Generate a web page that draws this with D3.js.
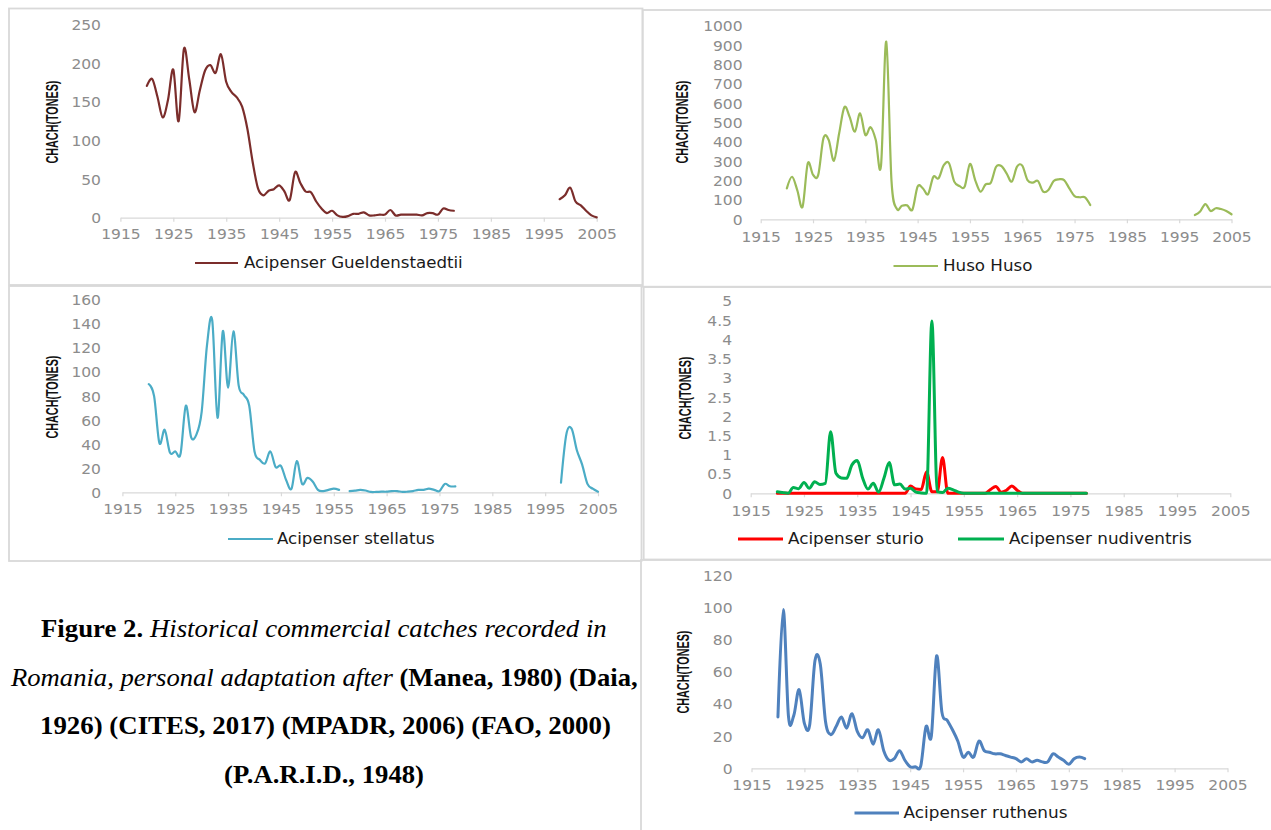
<!DOCTYPE html>
<html><head><meta charset="utf-8">
<script src="https://cdn.jsdelivr.net/npm/d3@7"></script>
<style>body{margin:0;background:#fff}svg{display:block}</style>
</head><body>
<svg id="c" width="1271" height="830"></svg>
<script>
// ---------- DATA ----------
const years = [1920,1921,1922,1923,1924,1925,1926,1927,1928,1929,
  1930,1931,1932,1933,1934,1935,1936,1937,1938,1939,
  1940,1941,1942,1943,1944,1945,1946,1947,1948,1949,
  1950,1951,1952,1953,1954,1955,1956,1957,1958,1959,
  1960,1961,1962,1963,1964,1965,1966,1967,1968,1969,
  1970,1971,1972,1973,1974,1975,1976,1977,1978,1979,
  1980,1981,1982,1983,1984,1985,1986,1987,1988,1989,
  1990,1991,1992,1993,1994,1995,1996,1997,1998,1999,
  2000,2001,2002,2003,2004,2005];
const xTickLabels = [1915,1925,1935,1945,1955,1965,1975,1985,1995,2005];
const N = null;
const gueldenstaedtii = [171,180,157,130,153,192,125,219,180,137,
  165,191,198,188,212,176,163,156,144,115,
  72,38,29,35,37,42,34,23,59,45,
  34,33,21,12,6,9,3,1,2,5,
  5,7,3,3,4,4,10,3,4,4,
  4,4,3,6,6,4,12,10,9,N,
  N,N,N,N,N,N,N,N,N,N,
  N,N,N,N,N,N,N,N,24,29,
  39,21,16,9,3,0.5];
const husoHuso = [160,220,150,65,290,230,230,420,410,303,
  445,580,530,453,548,436,476,410,278,919,
  200,55,70,72,50,170,160,130,220,212,
  280,290,195,172,170,286,203,143,181,190,
  272,276,238,195,272,278,203,190,198,143,
  152,198,207,203,160,120,114,114,74,N,
  N,N,N,N,N,N,N,N,N,N,
  N,N,N,N,N,N,N,N,22,40,
  79,43,57,53,43,26];
const stellatus = [90,80,41,52,33,34,32,72,46,48,
  67,122,143,62,134,87,134,89,81,72,
  34,27,24,34,21,22,10,3,26,7,
  12,9,2,1,2,3,2,N,1,1.4,
  2,1.5,0.3,0.3,0.5,0.5,1,1,0.3,0.5,
  1,2,2,3,2,1,7,5,5,N,
  N,N,N,N,N,N,N,N,N,N,
  N,N,N,N,N,N,N,N,8,48,
  53,35,23,7,3,0.5];
const sturio = [0,0,0,0,0,0,0,0,0,0,
  0,0,0,0,0,0,0,0,0,0,
  0,0,0,0,0,0.19,0.11,0.1,0.56,0.04,
  0.04,0.93,0,0,0,0,0,0,0,0,
  0.1,0.18,0.03,0.08,0.19,0.08,0,0,0,0,
  0,0,0,0,0,0,0,0,0,N,
  N,N,N,N,N,N,N,N,N,N,
  N,N,N,N,N,N,N,N,N,N,
  N,N,N,N,N,N];
const nudiventris = [0.04,0.02,0,0.15,0.12,0.28,0.13,0.3,0.23,0.26,
  1.6,0.52,0.4,0.39,0.74,0.85,0.4,0.11,0.26,0.03,
  0.39,0.8,0.22,0.24,0.11,0.13,0.03,0.01,0,4.48,
  0.04,0.02,0.13,0.09,0.03,0,0,0,0,0,
  0,0,0,0,0,0,0,0,0,0,
  0,0,0,0,0,0,0,0,0,N,
  N,N,N,N,N,N,N,N,N,N,
  N,N,N,N,N,N,N,N,N,N,
  N,N,N,N,N,N];
const ruthenus = [32,99,32,33,49,28,27,67,65,29,
  21,26,32,25,34,23,19,24,15,24,
  11,5,6,11,5,1,1,1.5,26,20,
  70,35,30,24,17,7,10,7,17,11,
  10,9,9,8,7,6,4,6,4,5,
  4,4,9,7,5,2.5,6,7,6,N,
  N,N,N,N,N,N,N,N,N,N,
  N,N,N,N,N,N,N,N,N,N,
  N,N,N,N,N,N];
const yTicks1 = [0,50,100,150,200,250];
const yTicks2 = [0,100,200,300,400,500,600,700,800,900,1000];
const yTicks3 = [0,20,40,60,80,100,120,140,160];
const yTicks4 = [0,0.5,1,1.5,2,2.5,3,3.5,4,4.5,5];
const yTicks5 = [0,20,40,60,80,100,120];
const axisTitle = "CHACH(TONES)";

// ---------- DRAW ----------
const svg = d3.select('#c');
const BORDER = '#d9d9d9';

const frames = [[9,8.5,642.5,285],[642.7,10,1276,286.7],[9,286,641.5,561],[643.7,287,1276,559.5],[641,560,1276,834]];
frames.forEach(f => svg.append('rect').attr('x',f[0]).attr('y',f[1]).attr('width',f[2]-f[0]).attr('height',f[3]-f[1])
  .attr('fill','none').attr('stroke',BORDER).attr('stroke-width',1.8));

function fitX(sel, target) {
  const w = sel.node().getComputedTextLength();
  return target / w;
}

const smooth = d3.curveCatmullRom.alpha(0);
const panels = [
  {series:[{name:'Acipenser Gueldenstaedtii', values:gueldenstaedtii, color:'#7b2d2b', w:2.2, lx1:195, lx2:238, tx:244, tw:219}],
   x0:120.4, x1:596.7, y0:217.7, y1:25, ymax:250, yTicks:yTicks1, yLabelX:101, tickLabelY:234.3,
   titleX:52, titleY:122, legendY:263, curve:smooth},
  {series:[{name:'Huso Huso', values:husoHuso, color:'#9bbb59', w:2.2, lx1:893.5, lx2:938, tx:943, tw:89.5}],
   x0:760.7, x1:1231.5, y0:219.3, y1:26, ymax:1000, yTicks:yTicks2, yLabelX:742.6, tickLabelY:236.7,
   titleX:682, titleY:122, legendY:266, curve:smooth},
  {series:[{name:'Acipenser stellatus', values:stellatus, color:'#4bacc6', w:2.2, lx1:228, lx2:273, tx:277, tw:158}],
   x0:122.4, x1:598, y0:492.3, y1:300, ymax:160, yTicks:yTicks3, yLabelX:101, tickLabelY:509,
   titleX:52, titleY:397, legendY:539, curve:smooth},
  {series:[{name:'Acipenser sturio', values:sturio, color:'#ff0000', w:3, lx1:738, lx2:783, tx:788, tw:136},
           {name:'Acipenser nudiventris', values:nudiventris, color:'#00b050', w:3, lx1:958, lx2:1004, tx:1009, tw:183}],
   x0:750.7, x1:1230.3, y0:493.3, y1:301, ymax:5, yTicks:yTicks4, yLabelX:732, tickLabelY:510.7,
   titleX:685, titleY:398, legendY:539, curve:d3.curveMonotoneX},
  {series:[{name:'Acipenser ruthenus', values:ruthenus, color:'#4f81bd', w:3, lx1:854.5, lx2:899, tx:903.6, tw:164}],
   x0:751.5, x1:1227.5, y0:768.3, y1:575.7, ymax:120, yTicks:yTicks5, yLabelX:732.6, tickLabelY:785,
   titleX:683.5, titleY:672, legendY:813, curve:smooth}
];

const tickFont = '13.5px "DejaVu Sans", sans-serif';
const TICK_COLOR = '#8c8c8c';

panels.forEach(p => {
  const x = d3.scaleLinear().domain([1915,2005]).range([p.x0,p.x1]);
  const y = d3.scaleLinear().domain([0,p.ymax]).range([p.y0,p.y1]);
  const g = svg.append('g');

  const xa = g.append('g').attr('transform',`translate(0,${p.y0})`)
    .call(d3.axisBottom(x).tickValues(xTickLabels).tickFormat(d3.format('d')).tickSize(4).tickSizeOuter(0));
  xa.select('.domain').attr('stroke',BORDER).attr('stroke-width',1.2);
  xa.selectAll('.tick line').attr('stroke',BORDER).attr('stroke-width',1.2);
  xa.selectAll('.tick text').attr('fill',TICK_COLOR).style('font',tickFont)
    .attr('y', p.tickLabelY - p.y0).attr('dy','0.36em').attr('transform','scale(1.15,1)');

  const ya = g.append('g').attr('transform',`translate(${p.yLabelX},0)`)
    .call(d3.axisLeft(y).tickValues(p.yTicks).tickFormat(d => String(d)).tickSize(0).tickPadding(0));
  ya.select('.domain').remove();
  ya.selectAll('.tick line').remove();
  ya.selectAll('.tick text').attr('fill',TICK_COLOR).style('font',tickFont)
    .attr('x',0).attr('dy','0.36em').attr('transform','scale(1.15,1)');

  const t = g.append('text').text(axisTitle).attr('text-anchor','middle')
    .style('font','bold 16px "Liberation Sans", Arial, sans-serif').attr('fill','#111').attr('dy','0.36em');
  const k = fitX(t, 83);
  t.attr('transform',`translate(${p.titleX},${p.titleY}) rotate(-90) scale(${k},1)`);

  p.series.forEach(s => {
    const line = d3.line()
      .defined(d => d.v !== null)
      .x(d => x(d.yr)).y(d => y(d.v))
      .curve(p.curve);
    const data = years.map((yr,i) => ({yr, v: s.values[i]}));
    g.append('path').datum(data).attr('d',line).attr('fill','none')
      .attr('stroke',s.color).attr('stroke-width',s.w).attr('stroke-linejoin','round').attr('stroke-linecap','round');

    g.append('line').attr('x1',s.lx1).attr('x2',s.lx2).attr('y1',p.legendY).attr('y2',p.legendY)
      .attr('stroke',s.color).attr('stroke-width',s.w);
    const lt = g.append('text').text(s.name).style('font','15px "DejaVu Sans", sans-serif')
      .attr('fill','#1a1a1a').attr('dy','0.36em');
    const kk = fitX(lt, s.tw);
    lt.attr('transform',`translate(${s.tx},${p.legendY}) scale(${kk},1)`);
  });
});

// ---------- CAPTION ----------
const captionLines = [
  {parts:[['Figure 2.','bold','normal'],[' Historical commercial catches recorded in','normal','italic']], x:41, w:566, base:637},
  {parts:[['Romania, personal adaptation after','normal','italic'],[' (Manea, 1980) (Daia,','bold','normal']], x:11, w:628, base:685.5},
  {parts:[['1926) (CITES, 2017) (MPADR, 2006) (FAO, 2000)','bold','normal']], x:40, w:571, base:734},
  {parts:[['(P.A.R.I.D., 1948)','bold','normal']], x:224, w:200, base:783}
];
captionLines.forEach(L => {
  const t = svg.append('text').style('font-family','"Liberation Serif", "Times New Roman", serif')
    .style('font-size','25px').attr('fill','#000').attr('x',0).attr('y',0);
  L.parts.forEach(pt => t.append('tspan').text(pt[0]).style('font-weight',pt[1]).style('font-style',pt[2]));
  const w = t.node().getBBox().width;
  t.attr('transform',`translate(${L.x},${L.base}) scale(${L.w / w},1)`);
});
</script>
</body></html>
